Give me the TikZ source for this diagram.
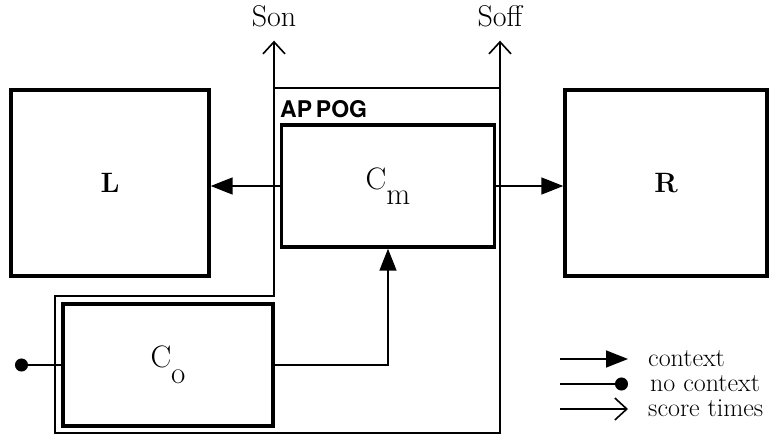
\documentclass[tikz,border=0pt]{standalone}
\usepackage{fontspec}
\newfontfamily\heros{TeX Gyre Heros}
\usetikzlibrary{arrows.meta,positioning}
\tikzset{
  blk/.style={rectangle, draw=black, line width=3.4pt, inner sep=0pt,
    font=\fontsize{31}{36}\selectfont},
  grp/.style={inner sep=0pt, font=\heros\bfseries\fontsize{23}{27}\selectfont},
  lbl/.style={inner sep=0pt, font=\fontsize{26}{30}\selectfont},
  wire/.style={line width=1.6pt},
  ctx/.style={wire, -{Triangle[length=22pt,width=17pt]}},
  nctx/.style={wire, -{Circle[length=13pt]}},
  times/.style={wire, -{Straight Barb[length=12pt,width=22pt,line width=1.6pt]}},
}
\newcommand{\csub}[2]{#1\raisebox{-0.5em}{#2}}

\begin{document}
\begin{tikzpicture}[x=1pt, y=-1pt]
    \useasboundingbox (0,0) rectangle (780,447);

    \node[blk, minimum width=198pt, minimum height=186pt] (l) at (110,183) {\fontsize{28}{32}\selectfont\textbf{L}};
    \node[blk, minimum width=202pt, minimum height=186pt] (r) at (666,183) {\fontsize{28}{32}\selectfont\textbf{R}};
    \node[blk, minimum width=213pt, minimum height=122pt] (cm) at (388,186) {\csub{C}{m}};
    \node[blk, minimum width=210pt, minimum height=122pt] (co) at (168,365) {\csub{C}{o}};

    \node[grp, anchor=base west] (appog) at (280,117) {AP\,POG};

    \node[lbl, anchor=base, inner ysep=13pt, font=\fontsize{30}{34}\selectfont] (son) at (274,27) {Son};
    \node[lbl, anchor=base, inner ysep=13pt, font=\fontsize{30}{34}\selectfont] (soff) at (500,27) {Soff};

    % score-time frame round APPOG
    \draw[wire, line join=miter, {Straight Barb[length=12pt,width=22pt,line width=1.6pt]}-{Straight Barb[length=12pt,width=22pt,line width=1.6pt]}]
      (son.south) -- (274,296) -| (55,433) -| (soff.south);
    \draw[wire] (274,88) -- (500,88);

    \draw[ctx] (cm.west) -- (cm.west -| l.east);
    \draw[ctx] (cm.east) -- (cm.east -| r.west);
    \draw[ctx] (co.east) -| (cm.south);

    \coordinate (src) at (15,365);
    \draw[nctx] (co.west) -- (src);

    % legend
    \node[lbl, anchor=base west] (kctx) at (648,366) {context};
    \node[lbl, anchor=base west] (knctx) at (650,391) {no context};
    \node[lbl, anchor=base west] (ktimes) at (648,416) {score times};
    \draw[ctx] ([xshift=-88pt,yshift=7pt]kctx.base west) -- ([xshift=-20pt,yshift=7pt]kctx.base west);
    \draw[nctx] ([xshift=-90pt,yshift=7pt]knctx.base west) -- ([xshift=-22pt,yshift=7pt]knctx.base west);
    \draw[times] ([xshift=-88pt,yshift=7pt]ktimes.base west) -- ([xshift=-20pt,yshift=7pt]ktimes.base west);
\end{tikzpicture}
\end{document}
